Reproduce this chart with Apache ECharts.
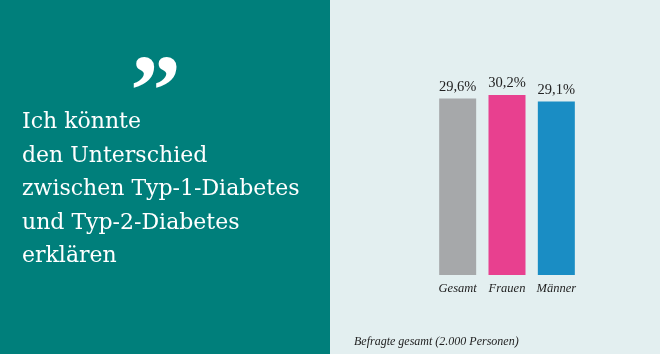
<!DOCTYPE html>
<html>
<head>
<meta charset="utf-8">
<style>
html, body { margin: 0; padding: 0; background: #e3eff0; }
#chart { width: 660px; height: 354px; }
</style>
<script src="https://cdn.jsdelivr.net/npm/echarts@6/dist/echarts.min.js"></script>
</head>
<body>
<div id="chart"></div>
<script>
var categories = ['Gesamt', 'Frauen', 'Männer']
var values = [29.6, 30.2, 29.1]
var barColors = ['#a6a8aa', '#e8408f', '#1a8dc4']
var quoteLines = ['Ich könnte', 'den Unterschied', 'zwischen Typ-1-Diabetes', 'und Typ-2-Diabetes', 'erklären']
var note = 'Befragte gesamt (2.000 Personen)'

var chart = echarts.init(document.getElementById('chart'))
chart.setOption({
  backgroundColor: '#e3eff0',
  animation: false,
  grid: {
    left: 433,
    width: 148,
    top: 66.4,
    bottom: 79
  },
  xAxis: {
    type: 'category',
    data: categories,
    axisLine: { show: false },
    axisTick: { show: false },
    axisLabel: {
      interval: 0,
      margin: 7,
      color: '#222',
      fontFamily: 'Liberation Serif',
      fontStyle: 'italic',
      fontSize: 12.5
    }
  },
  yAxis: {
    type: 'value',
    min: 0,
    max: 35,
    show: false,
    splitLine: { show: false }
  },
  series: [{
    type: 'bar',
    barWidth: 37,
    data: values.map(function (v, i) {
      return { value: v, itemStyle: { color: barColors[i] } }
    }),
    label: {
      show: true,
      position: 'top',
      distance: 4,
      color: '#222',
      fontFamily: 'Liberation Serif',
      fontSize: 14.5,
      formatter: function (p) {
        return p.value.toFixed(1).replace('.', ',') + '%'
      }
    }
  }],
  graphic: [
    {
      type: 'rect',
      shape: { x: 0, y: 0, width: 330, height: 354 },
      style: { fill: '#007f7b' },
      z: -1
    },
    {
      type: 'text',
      left: 130,
      top: 48,
      style: {
        text: '\u201D',
        fill: '#fff',
        font: 'bold 102px "Liberation Serif"'
      }
    },
    {
      type: 'text',
      left: 22,
      top: 106,
      style: {
        text: quoteLines.join('\n'),
        fill: '#fff',
        font: '22px "DejaVu Serif"',
        lineHeight: 33.5
      }
    },
    {
      type: 'text',
      left: 354,
      top: 336,
      style: {
        text: note,
        fill: '#222',
        font: 'italic 12px "Liberation Serif"'
      }
    }
  ]
})
</script>
</body>
</html>
